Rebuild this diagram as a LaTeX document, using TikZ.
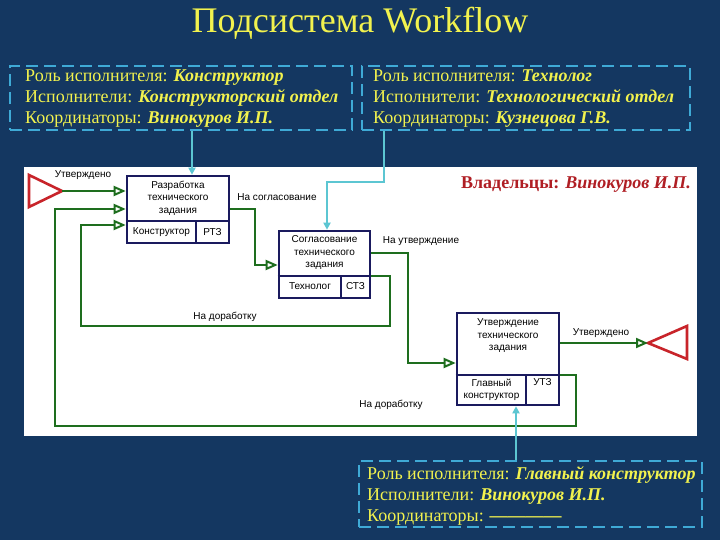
\documentclass[tikz,border=0pt]{standalone}
\usepackage{fontspec}
\setmainfont{Liberation Serif}
\newfontfamily\diagfont{Liberation Sans}
\usetikzlibrary{arrows.meta}
\definecolor{bg}{HTML}{143761}
\definecolor{ylw}{HTML}{F2F24E}
\definecolor{dashc}{HTML}{3FAAD6}
\definecolor{cyanl}{HTML}{5CC6D2}
\definecolor{grn}{HTML}{1E6E1E}
\definecolor{redt}{HTML}{C8242A}
\definecolor{navy}{HTML}{1A1A5E}
\definecolor{owner}{HTML}{B01E24}
\begin{document}
\begin{tikzpicture}[x=1pt,y=-1pt,
 rolebox/.style={draw=dashc, line width=2.6pt, dash pattern=on 12pt off 6pt, inner sep=0pt},
 roletext/.style={text=ylw, font=\fontsize{18}{21}\selectfont, align=left, inner sep=0pt, anchor=west},
 proc/.style={draw=navy, line width=2.6pt, fill=white, inner sep=0pt},
 divl/.style={draw=navy, line width=2.6pt},
 lbl/.style={font=\diagfont\fontsize{10}{12.5}\selectfont, text=black, inner sep=0pt, align=center},
 flow/.style={draw=grn, line width=2.4pt, -{Triangle[open, length=12pt, width=10pt, line width=2pt]}},
 link/.style={draw=cyanl, line width=2.4pt, -{Triangle[length=7pt, width=7pt]}},
 term/.style={draw=redt, line width=2.6pt, line join=miter}
]
\fill[bg] (0,0) rectangle (720,540);
\useasboundingbox (0,0) rectangle (720,540);
\node[text=ylw, font=\fontsize{36}{40}\selectfont, inner sep=0pt, anchor=base] (title) at (360,33) {Подсистема Workflow};

% role boxes
\node[rolebox, minimum width=342pt, minimum height=64pt] (r1) at (181,98) {};
\node[roletext] (r1t) at (25,99) {Роль исполнителя: \textbf{\textit{Конструктор}}\\Исполнители: \textbf{\textit{Конструкторский отдел}}\\Координаторы: \textbf{\textit{Винокуров И.П.}}};
\node[rolebox, minimum width=328pt, minimum height=64pt] (r2) at (526,98) {};
\node[roletext] (r2t) at (373,99) {Роль исполнителя: \textbf{\textit{Технолог}}\\Исполнители: \textbf{\textit{Технологический отдел}}\\Координаторы: \textbf{\textit{Кузнецова Г.В.}}};
\node[rolebox, minimum width=343pt, minimum height=66pt] (r3) at (530.5,494) {};
\node[roletext] (r3t) at (367,496) {Роль исполнителя: \textbf{\textit{Главный конструктор}}\\Исполнители: \textbf{\textit{Винокуров И.П.}}\\Координаторы: \textbf{————}};

% panel
\fill[white] (24,167) rectangle (697,436);
\node[anchor=east, text=owner, font=\fontsize{18}{20}\selectfont\bfseries, inner sep=0pt] (own) at (691,185) {Владельцы: \textit{Винокуров И.П.}};

% terminals
\coordinate (t1tip) at (62,191);
\draw[term] (29,175) -- (t1tip) -- (29,207) -- cycle;
\coordinate (t2tip) at (648,343);
\draw[term] (687,326) -- (t2tip) -- (687,359) -- cycle;

% process boxes
\node[proc, minimum width=102pt, minimum height=67pt] (b1) at (178,209.5) {};
\draw[divl] (b1.west |- 0,221) -- (b1.east |- 0,221);
\draw[divl] (196,221) -- (196,243);
\node[lbl] (b1t) at (178,198) {Разработка\\технического\\задания};
\node[lbl] (b1r) at (161.5,232) {Конструктор};
\node[lbl] (b1c) at (212.5,232) {РТЗ};

\node[proc, minimum width=91pt, minimum height=67pt] (b2) at (324.5,264.5) {};
\draw[divl] (b2.west |- 0,276) -- (b2.east |- 0,276);
\draw[divl] (341,276) -- (341,298);
\node[lbl] (b2t) at (324.5,253) {Согласование\\технического\\задания};
\node[lbl] (b2r) at (310,286) {Технолог};
\node[lbl] (b2c) at (355.5,286) {СТЗ};

\node[proc, minimum width=102pt, minimum height=92pt] (b3) at (508,359) {};
\draw[divl] (b3.west |- 0,375) -- (b3.east |- 0,375);
\draw[divl] (526,375) -- (526,405);
\node[lbl] (b3t) at (508,336) {Утверждение\\технического\\задания};
\node[lbl] (b3r) at (491.5,390) {Главный\\конструктор};
\node[lbl] (b3c) at (542.5,382) {УТЗ};

% green flows
\draw[flow] (t1tip) -- (t1tip -| b1.west);
\draw[flow] (b3.east |- 0,375) -| (576,426) -| (55,209) -- (b1.west |- 0,209);
\draw[flow] (b2.east |- 0,276) -| (390,326) -| (81,225) -- (b1.west |- 0,225);
\draw[flow] (b1.east |- 0,209) -| (255,265) -- (b2.west |- 0,265);
\draw[flow] (b2.east |- 0,253) -| (408,363) -- (b3.west |- 0,363);
\draw[flow] (b3.east |- 0,343) -- (t2tip);

% flow labels
\node[lbl] (l1) at (83,175) {Утверждено};
\node[lbl] (l2) at (277,197) {На согласование};
\node[lbl] (l3) at (421,241) {На утверждение};
\node[lbl] (l4) at (225,317) {На доработку};
\node[lbl] (l5) at (601,333) {Утверждено};
\node[lbl] (l6) at (391,405) {На доработку};

% cyan links
\draw[link] (r1.south -| 192,0) -- (b1.north -| 192,0);
\draw[link] (r2.south -| 384,0) -- (384,182) -| (b2.north -| 327,0);
\draw[link] (r3.north -| 516,0) -- (b3.south -| 516,0);
\end{tikzpicture}
\end{document}
